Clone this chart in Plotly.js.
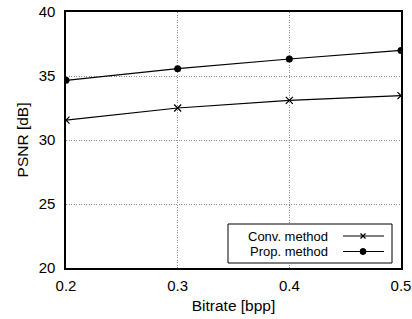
<!DOCTYPE html>
<html><head><meta charset="utf-8">
<script src="https://cdn.plot.ly/plotly-3.0.1.min.js"></script>
<style>html,body{margin:0;padding:0;background:#fff}#c{width:412px;height:319px}</style>
</head><body><div id="c"></div>
<script>
const bitrate = [0.2, 0.3, 0.4, 0.5];
const convPSNR = [31.55, 32.5, 33.1, 33.47];
const propPSNR = [34.66, 35.57, 36.33, 37.0];
const seriesNames = ["Conv. method", "Prop. method"];
const xTicks = [0.2, 0.3, 0.4, 0.5];
const yTicks = [20, 25, 30, 35, 40];

const F = "Liberation Sans, Arial, sans-serif";
const traces = [
  {x: bitrate, y: convPSNR, name: seriesNames[0], mode: "lines+markers",
   line: {color: "#000", width: 1.2},
   marker: {symbol: "x-thin", size: 7, line: {color: "#000", width: 1.2}, color: "#000"}},
  {x: bitrate, y: propPSNR, name: seriesNames[1], mode: "lines+markers",
   line: {color: "#000", width: 1.2},
   marker: {symbol: "circle", size: 7, color: "#000"}}
];

// custom legend (gnuplot style: text right, sample left->right)
const L = 66, T = 12, W = 335, H = 256;
const px = v => (v - L) / W, py = v => (T + H - v) / H;
const shapes = [
  {type: "rect", xref: "paper", yref: "paper", x0: px(228), x1: px(392), y0: py(263), y1: py(224),
   line: {color: "#000", width: 1}, fillcolor: "#fff", layer: "above"}
];
const annotations = [];
const rows = [236, 251.5];
rows.forEach((ry, i) => {
  annotations.push({xref: "paper", yref: "paper", x: px(330), y: py(ry), xanchor: "right", yanchor: "middle",
    text: seriesNames[i], showarrow: false, font: {family: F, size: 13, color: "#000"}});
  shapes.push({type: "line", xref: "paper", yref: "paper", x0: px(343), x1: px(384), y0: py(ry), y1: py(ry),
    line: {color: "#000", width: 1.2}, layer: "above"});
});
shapes.push({type: "line", xref: "paper", yref: "paper", x0: px(360.5), x1: px(365.5), y0: py(rows[0]-2.5), y1: py(rows[0]+2.5), line: {color: "#000", width: 1.2}, layer: "above"});
shapes.push({type: "line", xref: "paper", yref: "paper", x0: px(360.5), x1: px(365.5), y0: py(rows[0]+2.5), y1: py(rows[0]-2.5), line: {color: "#000", width: 1.2}, layer: "above"});
shapes.push({type: "circle", xref: "paper", yref: "paper", x0: px(360), x1: px(366), y0: py(rows[1]+3), y1: py(rows[1]-3), fillcolor: "#000", line: {color: "#000", width: 1}, layer: "above"});

const layout = {
  width: 412, height: 319,
  margin: {l: L, r: 412 - L - W, t: T, b: 319 - T - H},
  paper_bgcolor: "#fff", plot_bgcolor: "#fff",
  showlegend: false,
  font: {family: F, color: "#000"},
  xaxis: {range: [0.2, 0.5], tickvals: xTicks, ticktext: xTicks.map(v => v.toFixed(1)),
    showgrid: true, gridcolor: "#8c8c8c", griddash: "1px,1.5px", gridwidth: 1,
    showline: true, linecolor: "#000", linewidth: 1.6, mirror: true, zeroline: false,
    ticks: "", tickfont: {family: F, size: 15}, ticklabelstandoff: 3,
    title: {text: "Bitrate [bpp]", font: {family: F, size: 15.5}, standoff: 7}},
  yaxis: {range: [20, 40], tickvals: yTicks,
    showgrid: true, gridcolor: "#8c8c8c", griddash: "1px,1.5px", gridwidth: 1,
    showline: true, linecolor: "#000", linewidth: 1.6, mirror: true, zeroline: false,
    ticks: "", tickfont: {family: F, size: 15}, ticklabelstandoff: 6,
    title: {text: "PSNR [dB]", font: {family: F, size: 15.5}, standoff: 6}},
  shapes: shapes, annotations: annotations
};
Plotly.newPlot("c", traces, layout, {staticPlot: true, displayModeBar: false});
</script></body></html>
